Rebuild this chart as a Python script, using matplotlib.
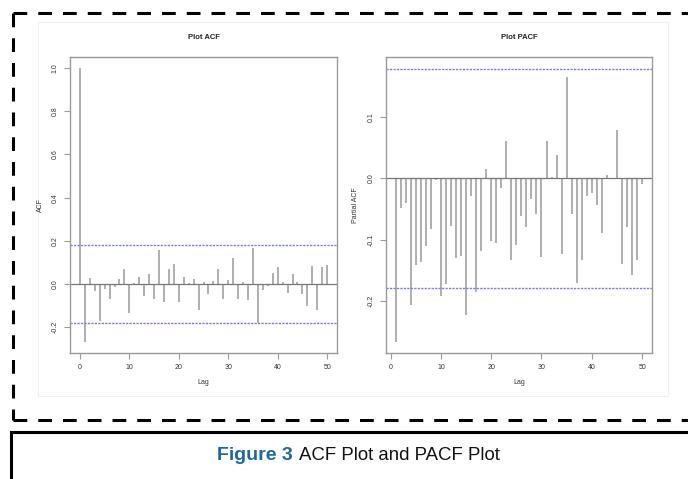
"""
ACF and PACF plots (R style) with figure caption
"""

import matplotlib.pyplot as plt

plt.rcParams['font.family'] = ['Liberation Sans', 'DejaVu Sans']

# ACF values, lag 0..50
acf_lags = list(range(0, 51))
acf_vals = [1.0, -0.268, 0.026, -0.033, -0.172, -0.023, -0.067, -0.012, 0.023, 0.070,
            -0.132, 0.003, 0.033, -0.054, 0.048, -0.071, 0.157, -0.085, 0.070, 0.093,
            -0.084, 0.034, 0.003, 0.023, -0.121, 0.008, -0.048, 0.012, 0.071, -0.071,
            0.019, 0.121, -0.067, 0.011, -0.076, 0.166, -0.180, -0.026, -0.008, 0.053,
            0.078, 0.008, -0.040, 0.045, 0.009, -0.048, -0.100, 0.084, -0.121, 0.078,
            0.090]

# PACF values, lag 1..50
pacf_lags = list(range(1, 51))
pacf_vals = [-0.267, -0.048, -0.040, -0.206, -0.142, -0.137, -0.111, -0.083, -0.002, -0.192,
             -0.172, -0.078, -0.130, -0.127, -0.223, -0.029, -0.186, -0.118, 0.016, -0.103,
             -0.106, -0.015, 0.061, -0.133, -0.108, -0.062, -0.079, -0.034, -0.059, -0.129,
             0.061, 0.002, 0.038, -0.123, 0.165, -0.058, -0.171, -0.133, -0.029, -0.024,
             -0.043, -0.090, 0.006, -0.001, 0.079, -0.139, -0.079, -0.157, -0.133, -0.009]

conf = 0.179   # 95% band
acf_yticks = [-0.2, 0.0, 0.2, 0.4, 0.6, 0.8, 1.0]
pacf_yticks = [-0.2, -0.1, 0.0, 0.1]
xticks = [0, 10, 20, 30, 40, 50]

W, H = 688, 479
fig = plt.figure(figsize=(W / 100, H / 100), dpi=100)

# background layer in pixel coordinates for the borders and caption
bg = fig.add_axes([0, 0, 1, 1], zorder=0)
bg.set_xlim(0, W)
bg.set_ylim(H, 0)
bg.axis('off')
bg.add_patch(plt.Rectangle((38, 22), 630, 374, fill=False, edgecolor='#f0f0f0', linewidth=0.8))
dash = dict(color='black', linewidth=2.2, linestyle=(0, (4.5, 3.6)))
bg.plot([12.5, 12.5], [13, 420], **dash)
bg.plot([12.5, W], [13, 13], **dash)
bg.plot([12.5, W], [420, 420], **dash)
bg.plot([11, 11, W], [H, 432, 432], color='black', linewidth=2.2, solid_joinstyle='miter')

bg.text(293, 455, 'Figure 3', color='#1f66a6', fontsize=14, fontweight='bold',
        ha='right', va='center')
bg.text(299, 455, 'ACF Plot and PACF Plot', color='#111111', fontsize=13.4,
        ha='left', va='center')


def r_style(ax, yticks, title, ylabel):
    for s in ax.spines.values():
        s.set_color('#9a9a9a')
        s.set_linewidth(1.0)
    ax.set_xticks(xticks)
    ax.set_yticks(yticks)
    ax.set_yticklabels([f'{t:.1f}' for t in yticks], rotation=90, va='center')
    ax.tick_params(colors='#9a9a9a', labelcolor='#333333', labelsize=5, length=4, width=0.8, pad=4)
    ax.set_title(title, fontsize=5.5, fontweight='bold', color='#222222', pad=13)
    ax.set_xlabel('Lag', fontsize=5, color='#333333', labelpad=6)
    ax.set_ylabel(ylabel, fontsize=5, color='#333333', labelpad=6)


band = dict(color='#7878ff', linewidth=1.0, linestyle=(0, (1.6, 0.9)))

# ACF panel
ax1 = fig.add_axes([70 / W, (H - 353) / H, 267 / W, 296 / H], zorder=1)
ax1.vlines(acf_lags, 0, acf_vals, color='#a8a8a8', linewidth=1.3)
ax1.axhline(0, color='#777777', linewidth=0.9)
ax1.axhline(conf, **band)
ax1.axhline(-conf, **band)
ax1.set_xlim(-2, 52)
ax1.set_ylim(-0.319, 1.051)
r_style(ax1, acf_yticks, 'Plot ACF', 'ACF')

# PACF panel
ax2 = fig.add_axes([385.7 / W, (H - 353) / H, 266.3 / W, 296 / H], zorder=1)
ax2.vlines(pacf_lags, 0, pacf_vals, color='#a8a8a8', linewidth=1.3)
ax2.axhline(0, color='#777777', linewidth=0.9)
ax2.axhline(conf, **band)
ax2.axhline(-conf, **band)
ax2.set_xlim(-0.96, 51.96)
ax2.set_ylim(-0.285, 0.198)
r_style(ax2, pacf_yticks, 'Plot PACF', 'Partial ACF')

fig.savefig('out.png', dpi=100)
